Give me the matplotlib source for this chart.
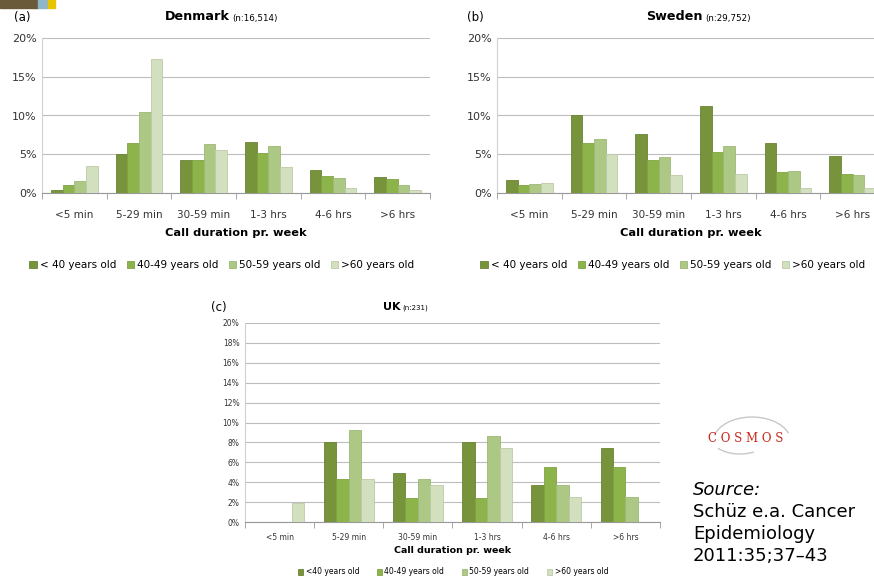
import numpy as np
import matplotlib.pyplot as plt
from matplotlib.patches import Rectangle, Arc

categories = ['<5 min', '5-29 min', '30-59 min', '1-3 hrs', '4-6 hrs', '>6 hrs']
groups = ['< 40 years old', '40-49 years old', '50-59 years old', '>60 years old']
groups_uk = ['<40 years old', '40-49 years old', '50-59 years old', '>60 years old']

# percent, rows = age group, columns = category
denmark = [[0.4, 5.0, 4.2, 6.6, 3.0, 2.0],
           [1.0, 6.5, 4.2, 5.2, 2.2, 1.8],
           [1.6, 10.4, 6.3, 6.1, 1.9, 1.0],
           [3.5, 17.3, 5.6, 3.4, 0.7, 0.4]]
sweden = [[1.7, 10.0, 7.6, 11.2, 6.5, 4.8],
          [1.0, 6.4, 4.3, 5.3, 2.7, 2.5],
          [1.1, 7.0, 4.6, 6.0, 2.9, 2.3],
          [1.3, 5.0, 2.3, 2.4, 0.7, 0.6]]
uk = [[0.0, 8.0, 4.9, 8.0, 3.7, 7.4],
      [0.0, 4.3, 2.4, 2.4, 5.5, 5.5],
      [0.0, 9.2, 4.3, 8.6, 3.7, 2.5],
      [1.9, 4.3, 3.7, 7.4, 2.5, 0.0]]

colors = ['#77933c', '#8db44a', '#adc785', '#d3e0bf']
edges = ['#6a8534', '#7fa341', '#9cb876', '#bccba8']

W, H = 874, 579
fig = plt.figure(figsize=(W / 100, H / 100), dpi=100)


def box(l, t, r, b):
    return [l / W, 1 - b / H, (r - l) / W, (b - t) / H]


def panel(rect, data, ticks, tfs, leg_xy, labels, small=False):
    ax = fig.add_axes(box(*rect))
    x = np.arange(len(categories))
    bw = 0.18
    for i in range(4):
        vals = np.array(data[i])
        ax.bar(x + (i - 1.5) * bw, vals, bw, color=colors[i], edgecolor=edges[i],
               linewidth=0.6, zorder=3)
    ax.set_xlim(-0.5, len(categories) - 0.5)
    ax.set_ylim(0, 20)
    ax.set_yticks(ticks)
    ax.set_yticklabels(['%d%%' % t for t in ticks], fontsize=tfs, color='#333333')
    ax.set_xticks(x)
    ax.set_xticklabels(categories, fontsize=tfs - (0 if small else 0.5), color='#333333')
    ax.set_xticks(np.arange(-0.5, len(categories)), minor=True)
    ax.tick_params(axis='x', which='major', length=0, pad=12 if not small else 8)
    ax.tick_params(axis='x', which='minor', length=4, color='#999999')
    ax.tick_params(axis='y', length=0, pad=4)
    ax.grid(axis='y', color='#bdbdbd', linewidth=0.8, zorder=0)
    for s in ['top', 'right']:
        ax.spines[s].set_visible(False)
    ax.spines['left'].set_color('#d0d0d0')
    ax.spines['bottom'].set_color('#999999')
    ax.set_xlabel('Call duration pr. week', fontsize=6.8 if small else 8.2,
                  fontweight='bold', labelpad=3 if small else 6)
    fig.legend(ax.containers, labels, loc='center', bbox_to_anchor=(leg_xy[0] / W, 1 - leg_xy[1] / H),
               ncol=4, frameon=False, fontsize=5.5 if small else 7.5, handlelength=0.7,
               handleheight=0.7, handletextpad=0.3, columnspacing=1.0 if not small else 2.3)
    return ax


ax1 = panel((42, 38, 430, 193), denmark, [0, 5, 10, 15, 20], 8, (222, 265), groups)
ax2 = panel((497, 38, 885, 193), sweden, [0, 5, 10, 15, 20], 8, (673, 265), groups)
ax3 = panel((245, 323, 660, 522), uk, list(range(0, 21, 2)), 5.5, (453, 572), groups_uk,
            small=True)

# titles
fig.text(14 / W, 1 - 17 / H, '(a)', fontsize=8.5, va='center')
fig.text(230 / W, 1 - 17 / H, 'Denmark', fontsize=9.2, fontweight='bold', va='center', ha='right')
fig.text(232 / W, 1 - 18 / H, '(n:16,514)', fontsize=6.3, va='center', ha='left')
fig.text(467 / W, 1 - 17 / H, '(b)', fontsize=8.5, va='center')
fig.text(703 / W, 1 - 17 / H, 'Sweden', fontsize=9.2, fontweight='bold', va='center', ha='right')
fig.text(705 / W, 1 - 18 / H, '(n:29,752)', fontsize=6.3, va='center', ha='left')
fig.text(211 / W, 1 - 307 / H, '(c)', fontsize=8.5, va='center')
fig.text(400 / W, 1 - 307 / H, 'UK', fontsize=8, fontweight='bold', va='center', ha='right')
fig.text(402 / W, 1 - 308 / H, '(n:231)', fontsize=5, va='center', ha='left')

# top-left image fragment
fig.patches.append(Rectangle((0, 1 - 8 / H), 38 / W, 8 / H, transform=fig.transFigure,
                             color='#6b5a3a'))
fig.patches.append(Rectangle((38 / W, 1 - 8 / H), 10 / W, 8 / H, transform=fig.transFigure,
                             color='#8fb6c8'))
fig.patches.append(Rectangle((48 / W, 1 - 8 / H), 7 / W, 8 / H, transform=fig.transFigure,
                             color='#e8c400'))

# COSMOS logo
fig.patches.append(Arc((752 / W, 1 - 442 / H), 78 / W, 50 / H, theta1=20, theta2=165,
                       transform=fig.transFigure, color='#c8c8c8', linewidth=1))
fig.patches.append(Arc((740 / W, 1 - 436 / H), 60 / W, 36 / H, theta1=220, theta2=300,
                       transform=fig.transFigure, color='#c8c8c8', linewidth=1))
fig.text(746 / W, 1 - 438 / H, 'C O S M O S', fontsize=8.5, family='DejaVu Serif',
         color='#c8281e', ha='center', va='center')

fig.text(693 / W, 1 - 490 / H, 'Source:', fontsize=13, style='italic', va='center')
fig.text(693 / W, 1 - 512 / H, 'Schüz e.a. Cancer', fontsize=13, va='center')
fig.text(693 / W, 1 - 534 / H, 'Epidemiology', fontsize=13, va='center')
fig.text(693 / W, 1 - 556 / H, '2011:35;37\u201343', fontsize=13, va='center')

fig.savefig('out.png', dpi=100)
